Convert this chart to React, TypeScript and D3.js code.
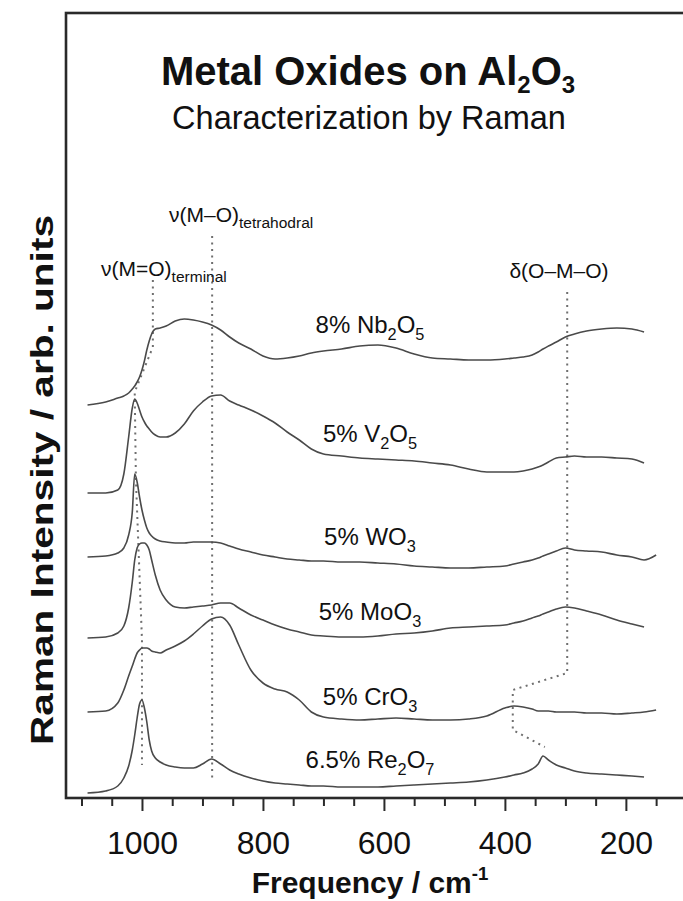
import { useEffect, useRef } from "react";
import * as d3 from "d3";

// Raman shift grid (cm-1) shared by all spectra
const wavenumbers = [
  1090, 1060, 1040, 1030, 1022, 1016, 1012, 1008, 1004, 1000,
  996, 992, 988, 984, 978, 970, 960, 945, 930, 915,
  900, 885, 870, 855, 840, 820, 800, 780, 760, 740,
  720, 700, 670, 640, 610, 580, 550, 520, 490, 460,
  430, 400, 385, 370, 355, 345, 337, 328, 315, 300,
  285, 265, 240, 215, 190, 170, 150,
];

// stacked intensities (arb. units, offsets included)
const nb2o5 = [
  39.3, 39.6, 40.0, 40.2, 40.5, 40.9, 41.2, 41.6, 42.1, 42.8,
  43.7, 44.8, 45.7, 46.4, 46.9, 47.0, 47.2, 47.7, 47.9, 47.8,
  47.6, 47.3, 46.8, 46.1, 45.5, 44.9, 44.2, 43.9, 44.0, 44.2,
  44.5, 44.7, 44.9, 45.2, 45.3, 45.0, 44.4, 44.0, 43.9, 43.8,
  43.8, 43.9, 44.0, 44.1, 44.3, 44.6, 44.9, 45.2, 45.6, 46.1,
  46.4, 46.7, 46.9, 47.0, 46.9, 46.6, NaN,
];
const v2o5 = [
  30.5, 30.5, 30.8, 32.4, 36.1, 39.0, 39.9, 39.5, 38.8, 38.1,
  37.6, 37.2, 36.9, 36.6, 36.3, 36.1, 36.1, 36.5, 37.4, 38.7,
  39.6, 40.2, 40.3, 39.7, 39.3, 38.8, 38.2, 37.5, 36.6, 35.8,
  34.9, 34.4, 34.2, 34.0, 33.9, 33.8, 33.7, 33.5, 33.3, 32.9,
  32.6, 32.6, 32.6, 32.7, 32.9, 33.1, 33.3, 33.6, 34.0, 34.1,
  34.2, 34.1, 34.1, 34.0, 33.9, 33.5, NaN,
];
const wo3 = [
  24.1, 24.2, 24.5, 25.0, 26.3, 28.6, 32.4, 31.6, 30.1, 28.8,
  27.8, 27.0, 26.5, 26.2, 25.9, 25.7, 25.6, 25.5, 25.5, 25.6,
  25.6, 25.6, 25.5, 25.2, 24.9, 24.6, 24.3, 24.1, 23.9, 23.8,
  23.7, 23.7, 23.6, 23.6, 23.5, 23.4, 23.2, 23.1, 23.0, 23.0,
  23.1, 23.2, 23.4, 23.6, 23.8, 24.0, 24.2, 24.4, 24.7, 25.0,
  24.8, 24.7, 24.6, 24.3, 24.1, 23.8, 24.3,
];
const moo3 = [
  16.0, 16.1, 16.5, 17.2, 19.0, 21.6, 23.8, 25.0, 25.4, 25.5,
  25.5, 25.3, 24.8, 23.8, 22.3, 20.8, 19.8, 19.1, 19.0, 19.1,
  19.2, 19.3, 19.5, 19.5, 19.0, 18.3, 17.8, 17.3, 16.9, 16.6,
  16.3, 16.2, 16.1, 16.1, 16.2, 16.4, 16.5, 16.7, 17.0, 17.1,
  17.2, 17.3, 17.5, 17.7, 18.0, 18.2, 18.4, 18.6, 18.9, 19.1,
  19.0, 18.7, 18.3, 17.8, 17.4, 17.1, NaN,
];
const cro3 = [
  8.6, 8.7, 9.5, 10.8, 12.2, 13.2, 13.9, 14.5, 14.8, 15.0,
  15.0, 15.0, 14.9, 14.7, 14.6, 14.5, 14.8, 15.2, 15.7, 16.4,
  17.2, 17.9, 18.1, 17.3, 15.3, 12.8, 11.5, 10.9, 10.6, 9.8,
  8.6, 8.1, 7.9, 7.8, 7.9, 8.0, 7.9, 7.8, 7.8, 7.9,
  8.2, 9.0, 9.2, 9.1, 8.9, 8.7, 8.7, 8.7, 8.6, 8.6,
  8.6, 8.5, 8.5, 8.4, 8.5, 8.6, 8.8,
];
const re2o7 = [
  0.5, 0.7, 1.2, 2.0, 3.2, 4.8, 6.3, 8.0, 9.4, 9.8,
  9.0, 7.6, 5.8, 4.7, 4.0, 3.6, 3.3, 3.1, 3.0, 3.0,
  3.4, 3.9, 3.4, 2.8, 2.4, 2.0, 1.7, 1.5, 1.4, 1.3,
  1.2, 1.2, 1.1, 1.1, 1.1, 1.2, 1.3, 1.4, 1.5, 1.6,
  1.8, 2.1, 2.3, 2.5, 2.9, 3.4, 4.2, 3.8, 3.3, 3.0,
  2.7, 2.5, 2.4, 2.3, 2.2, 2.1, NaN,
];

const spectra = [nb2o5, v2o5, wo3, moo3, cro3, re2o7];
const sampleLabels = [
  "8% Nb_{2}O_{5}",
  "5% V_{2}O_{5}",
  "5% WO_{3}",
  "5% MoO_{3}",
  "5% CrO_{3}",
  "6.5% Re_{2}O_{7}",
];

// band guide lines: [wavenumber, intensity]
const terminalBand = [[982, 51.8], [982, 45.1], [1012, 40.6], [1010, 31.8], [1000, 15.8], [1000, 3.3]];
const tetrahedralBand = [[884, 56.2], [884, 2.0]];
const bendingBand = [[297, 50.6], [297, 12.5], [387, 10.8], [387, 6.8], [334, 5.1]];

const majorTicks = [1000, 800, 600, 400, 200];
const minorTicks = [1100, 1050, 950, 900, 850, 750, 700, 650, 550, 500, 450, 350, 300, 250, 150, 100];

const FONT = "'Liberation Sans', Arial, Helvetica, sans-serif";

// writes "A_{2}" / "^{-1}" style strings into a <text> as tspans
const richText = (sel: any, str: string, fs: number, subShift = 0.3, subSize = 0.68) => {
  const parts = str.split(/(_\{[^}]*\}|\^\{[^}]*\})/).filter((p) => p.length);
  let shift = 0;
  parts.forEach((p) => {
    let target = 0;
    let txt = p;
    let size = fs;
    if (p.startsWith("_{")) {
      txt = p.slice(2, -1);
      target = fs * subShift;
      size = fs * subSize;
    } else if (p.startsWith("^{")) {
      txt = p.slice(2, -1);
      target = -fs * 0.42;
      size = fs * 0.62;
    }
    sel
      .append("tspan")
      .attr("dy", target - shift)
      .attr("font-size", size)
      .text(txt);
    shift = target;
  });
};

const RamanChart = () => {
  const svgRef = useRef(null);

  useEffect(() => {
    if (!svgRef.current) return;
    const svg = d3.select(svgRef.current);
    svg.selectAll("*").remove();

    const frame = { left: 66, top: 13, right: 690, bottom: 798 };

    const x = d3.scaleLinear().domain([1125.6, 94]).range([frame.left, frame.right]);
    const y = d3.scaleLinear().domain([0, 78.5]).range([frame.bottom, frame.top]);

    svg
      .append("rect")
      .attr("width", 683)
      .attr("height", 901)
      .attr("fill", "#fff");

    // dotted band guides
    const guide = d3
      .line()
      .x((d: any) => x(d[0]))
      .y((d: any) => y(d[1]));
    [terminalBand, tetrahedralBand, bendingBand].forEach((pts) => {
      svg
        .append("path")
        .attr("d", guide(pts as any))
        .attr("fill", "none")
        .attr("stroke", "#6f6f6f")
        .attr("stroke-width", 2)
        .attr("stroke-dasharray", "2,4.5");
    });

    // spectra
    const line = d3
      .line()
      .defined((d: any) => !isNaN(d[1]))
      .x((d: any) => x(d[0]))
      .y((d: any) => y(d[1]))
      .curve(d3.curveMonotoneX);
    spectra.forEach((s) => {
      svg
        .append("path")
        .attr("d", line(wavenumbers.map((w, i) => [w, s[i]]) as any))
        .attr("fill", "none")
        .attr("stroke", "#4a4a4a")
        .attr("stroke-width", 1.6)
        .attr("stroke-linejoin", "round");
    });

    // frame
    svg
      .append("rect")
      .attr("x", frame.left)
      .attr("y", frame.top)
      .attr("width", frame.right - frame.left)
      .attr("height", frame.bottom - frame.top)
      .attr("fill", "none")
      .attr("stroke", "#2a2a2a")
      .attr("stroke-width", 2.6);

    // axes
    const minorAxis = d3
      .axisBottom(x)
      .tickValues(minorTicks)
      .tickSize(8)
      .tickFormat(() => "");
    const majorAxis = d3
      .axisBottom(x)
      .tickValues(majorTicks)
      .tickSize(13)
      .tickPadding(20)
      .tickFormat(d3.format("d") as any);

    const gMinor = svg.append("g").attr("transform", `translate(0,${frame.bottom})`).call(minorAxis);
    const gMajor = svg.append("g").attr("transform", `translate(0,${frame.bottom})`).call(majorAxis);
    [gMinor, gMajor].forEach((g) => {
      g.select(".domain").remove();
      g.selectAll("line").attr("stroke", "#2a2a2a").attr("stroke-width", 2);
    });
    gMajor
      .selectAll("text")
      .attr("font-family", FONT)
      .attr("font-size", 32)
      .attr("fill", "#111");

    const txt = (xp: number, yp: number, size: number, anchor: string, weight = "normal") =>
      svg
        .append("text")
        .attr("x", xp)
        .attr("y", yp)
        .attr("font-family", FONT)
        .attr("font-size", size)
        .attr("font-weight", weight)
        .attr("text-anchor", anchor)
        .attr("fill", "#111");

    // titles
    richText(txt(368, 85, 40, "middle", "bold"), "Metal Oxides on Al_{2}O_{3}", 40, 0.2, 0.6);
    txt(369, 129, 32.5, "middle").text("Characterization by Raman");

    // band labels
    richText(txt(169, 222, 21, "start"), "ν(M–O)_{tetrahodral}", 21, 0.3, 0.74);
    richText(txt(101, 276, 21, "start"), "ν(M=O)_{terminal}", 21, 0.3, 0.74);
    txt(559, 278, 21, "middle").text("δ(O–M–O)");

    // sample labels
    const labelBaselines = [333, 442, 545, 620, 705, 768];
    sampleLabels.forEach((lab, i) => {
      richText(txt(370, labelBaselines[i], 24, "middle"), lab, 24);
    });

    // axis titles
    richText(txt(370, 893, 30, "middle", "bold"), "Frequency / cm^{-1}", 30);
    svg
      .append("text")
      .attr("transform", "translate(53,480) rotate(-90)")
      .attr("font-family", FONT)
      .attr("font-size", 31)
      .attr("font-weight", "bold")
      .attr("text-anchor", "middle")
      .attr("textLength", 530)
      .attr("lengthAdjust", "spacingAndGlyphs")
      .attr("fill", "#111")
      .text("Raman Intensity / arb. units");
  }, []);

  return (
    <svg
      ref={svgRef}
      width={683}
      height={901}
      style={{ position: "absolute", left: 0, top: 0 }}
    />
  );
};

export default function App() {
  return <RamanChart />;
}
